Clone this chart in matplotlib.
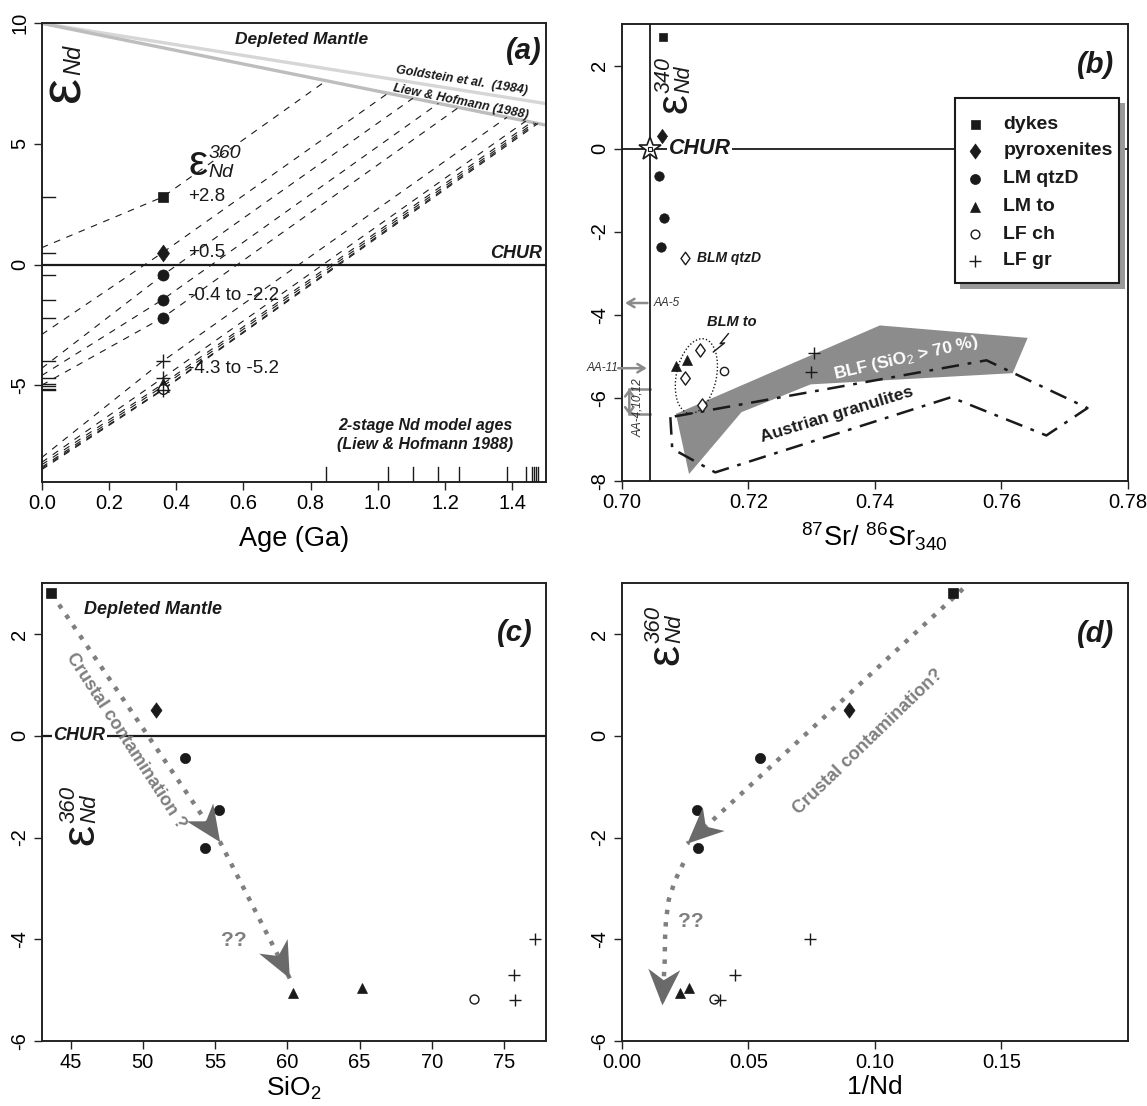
import numpy as np
import matplotlib
matplotlib.use("Agg")
import matplotlib.pyplot as plt
from matplotlib.patches import Polygon, Rectangle, Ellipse
from matplotlib.path import Path
from matplotlib.transforms import IdentityTransform, blended_transform_factory

plt.rcParams['font.family'] = ['Liberation Sans', 'DejaVu Sans']
plt.rcParams['mathtext.fontset'] = 'custom'
plt.rcParams['mathtext.rm'] = 'Liberation Sans'
plt.rcParams['mathtext.it'] = 'Liberation Sans:italic'
plt.rcParams['axes.unicode_minus'] = False

# ------------------------------------------------------------------ data
groups = ['dykes', 'pyroxenites', 'LM qtzD', 'LM to', 'LF ch', 'LF gr']
sample_group = ['dykes', 'pyroxenites', 'LM qtzD', 'LM qtzD', 'LM qtzD',
                'LM to', 'LM to', 'LF ch', 'LF gr', 'LF gr', 'LF gr']
eps_nd_360 = [2.8, 0.5, -0.44, -1.45, -2.2, -5.05, -4.95, -5.17, -4.0, -4.7, -5.2]
eps_nd_0 = [0.7, -2.9, -4.3, -4.6, -5.0, -8.4, -8.3, -8.45, -8.0, -8.2, -8.5]
t_dm = [0.846, 1.03, 1.104, 1.18, 1.24, 1.465, 1.457, 1.471, 1.384, 1.44, 1.476]
age_intrusion = 0.36
sio2 = [43.66, 50.89, 52.95, 55.27, 54.28, 60.42, 65.17, 72.95, 77.15, 75.69, 75.77]
inv_nd = [0.1307, 0.0898, 0.0547, 0.0298, 0.0301, 0.0230, 0.0266, 0.0365, 0.0744, 0.0446, 0.0390]

# depleted mantle evolution (present value, value at 1.5 Ga)
dm_goldstein = [10.0, 6.67]
dm_liew = [10.0, 5.78]
dm_age = [0.0, 1.5]

# panel (b)
group_b = ['dykes', 'pyroxenites', 'LM qtzD', 'LM qtzD', 'LM qtzD',
           'LM to', 'LM to', 'LF ch', 'LF gr', 'LF gr']
sr_340 = [0.7065, 0.70633, 0.70592, 0.70668, 0.70621, 0.70857, 0.71035, 0.71614, 0.73044, 0.72997]
eps_nd_340 = [2.69, 0.31, -0.65, -1.67, -2.38, -5.245, -5.10, -5.36, -4.92, -5.38]
blm_qtzd_sr = [0.70993]
blm_qtzd_eps = [-2.64]
blm_to_sr = [0.71242, 0.71005, 0.71271]
blm_to_eps = [-4.86, -5.52, -6.18]
blf_sr = [0.70857, 0.74079, 0.76415, 0.76178, 0.72986, 0.71892, 0.71064]
blf_eps = [-6.39, -4.26, -4.56, -5.41, -5.68, -6.35, -7.84]
agran_sr = [0.70769, 0.70798, 0.71478, 0.75203, 0.76710, 0.77360, 0.75764, 0.70769]
agran_eps = [-6.47, -7.23, -7.80, -5.99, -6.91, -6.25, -5.10, -6.47]
chur_sr = 0.7045
chur_eps = 0.0

# ------------------------------------------------------------------ styles
diamond = Path([(0, 1), (0.72, 0), (0, -1), (-0.72, 0), (0, 1)],
               [Path.MOVETO, Path.LINETO, Path.LINETO, Path.LINETO, Path.CLOSEPOLY])
K = '#1a1a1a'
GRAY = '#7f7f7f'
HEAD = '#6a6a6a'


def mstyle(g, scale=1.0):
    base = {
        'dykes': dict(marker='s', ms=7.2, mfc=K, mec=K, mew=0.5),
        'pyroxenites': dict(marker=diamond, ms=12, mfc=K, mec=K, mew=0.5),
        'LM qtzD': dict(marker='o', ms=8, mfc=K, mec=K, mew=0.5),
        'LM to': dict(marker='^', ms=8, mfc=K, mec=K, mew=0.5),
        'LF ch': dict(marker='o', ms=7, mfc='white', mec=K, mew=1.0),
        'LF gr': dict(marker='+', ms=10, mfc=K, mec=K, mew=1.0),
    }[g]
    base = dict(base)
    base['ms'] = base['ms'] * scale
    return base


def plot_groups(ax, xs, ys, gl, scale=1.0):
    for g in groups:
        xx = [x for x, gg in zip(xs, gl) if gg == g]
        yy = [y for y, gg in zip(ys, gl) if gg == g]
        if xx:
            ax.plot(xx, yy, ls='none', zorder=6, **mstyle(g, scale))


def style_axes(ax, xlim, ylim, xticks, yticks, xfmt):
    ax.set_xlim(*xlim)
    ax.set_ylim(*ylim)
    ax.set_xticks(xticks)
    ax.set_xticklabels([xfmt.format(v) for v in xticks])
    ax.set_yticks(yticks)
    ax.set_yticklabels(['{:g}'.format(v) for v in yticks], rotation=90, va='center')
    ax.tick_params(direction='out', length=6, width=1.0, labelsize=14.5, pad=3, color='#222')
    for s in ax.spines.values():
        s.set_linewidth(1.4)
        s.set_color('#222')


def eps_label(ax, x, y, sup, sub, size=30, ssize=15, rot=0, sub_dy=-0.05):
    ax.text(x, y, 'ε', fontsize=size, rotation=rot, ha='left', va='baseline',
            rotation_mode='anchor', color=K)
    adv = 0.46 * size

    def off(dx, dy):
        return (-dy, dx) if rot == 90 else (dx, dy)
    if sup:
        ax.annotate(sup, (x, y), xytext=off(adv, 0.40 * size), textcoords='offset points',
                    fontsize=ssize, style='italic', rotation=rot, ha='left', va='baseline',
                    rotation_mode='anchor', color=K)
    ax.annotate(sub, (x, y), xytext=off(adv, sub_dy * size), textcoords='offset points',
                fontsize=ssize, style='italic', rotation=rot, ha='left', va='baseline',
                rotation_mode='anchor', color=K)


def stealth(ax, tip, back, length=36, width=32, color=HEAD):
    t = ax.transData.transform(tip)
    b = ax.transData.transform(back)
    d = t - b
    d = d / np.hypot(*d)
    n = np.array([-d[1], d[0]])
    base = t - d * length
    pts = [t, base + n * width / 2, t - d * length * 0.70, base - n * width / 2]
    ax.add_patch(Polygon(pts, closed=True, transform=IdentityTransform(),
                         fc=color, ec='none', zorder=7))


fig = plt.figure(figsize=(11.47, 11.06), dpi=100)
W, H = 1147.0, 1106.0


def add_ax(l, r, t, b):
    return fig.add_axes([l / W, 1 - b / H, (r - l) / W, (b - t) / H])


axA = add_ax(41.7, 546, 23.3, 481.7)
axB = add_ax(621.7, 1128, 24, 480.7)
axC = add_ax(41.7, 546, 583.3, 1041)
axD = add_ax(621.7, 1128, 583.3, 1041)

# ------------------------------------------------------------------ (a)
ax = axA
style_axes(ax, (0, 1.5), (-9, 10), [0, 0.2, 0.4, 0.6, 0.8, 1.0, 1.2, 1.4], [-5, 0, 5, 10], '{:.1f}')
ax.plot(dm_age, dm_goldstein, color='#d6d6d6', lw=2.4, zorder=2, solid_capstyle='butt')
ax.plot(dm_age, dm_liew, color='#bdbdbd', lw=2.4, zorder=2, solid_capstyle='butt')
ax.axhline(0, color=K, lw=1.6, zorder=3)


def dm_value(t):
    return np.interp(t, dm_age, dm_liew)


for e0, e360, tdm in zip(eps_nd_0, eps_nd_360, t_dm):
    ax.plot([0, age_intrusion, tdm], [e0, e360, dm_value(tdm)], color=K, lw=0.8,
            ls=(0, (6, 6)), zorder=4)
plot_groups(ax, [age_intrusion] * len(eps_nd_360), eps_nd_360, sample_group, 1.0)
# rugs
trx = blended_transform_factory(ax.transData, ax.transAxes)
for tdm in t_dm:
    ax.plot([tdm, tdm], [0, 0.033], transform=trx, color=K, lw=1.0, zorder=5)
try_ = blended_transform_factory(ax.transAxes, ax.transData)
for e in eps_nd_360:
    ax.plot([0, 0.026], [e, e], transform=try_, color=K, lw=1.0, zorder=5)

ax.set_xlabel('Age (Ga)', fontsize=19.5, labelpad=9)
ax.text(0.773, 9.33, 'Depleted Mantle', fontsize=12.5, weight='bold', style='italic',
        ha='center', va='center', color=K)
ax.text(1.487, 8.85, '(a)', fontsize=21, weight='bold', style='italic', ha='right',
        va='center', color=K)
ax.text(1.25, 7.62, 'Goldstein et al.  (1984)', fontsize=9, weight='bold', style='italic',
        ha='center', va='center', rotation=-9, color=K)
ax.text(1.245, 6.76, 'Liew & Hofmann (1988)', fontsize=9, weight='bold', style='italic',
        ha='center', va='center', rotation=-11.5, color=K)
ax.text(1.489, 0.45, 'CHUR', fontsize=13, weight='bold', style='italic', ha='right',
        va='center', color=K)
ax.text(1.141, -6.68, '2-stage Nd model ages', fontsize=11.5, weight='bold', style='italic',
        ha='center', va='center', color=K)
ax.text(1.141, -7.46, '(Liew & Hofmann 1988)', fontsize=11.5, weight='bold', style='italic',
        ha='center', va='center', color=K)
for txt, yy, xx in [('+2.8', 2.84, 0.436), ('+0.5', 0.48, 0.436),
                    ('-0.4 to -2.2', -1.27, 0.434), ('-4.3 to -5.2', -4.31, 0.434)]:
    ax.text(xx, yy, txt, fontsize=13.5, ha='left', va='center', color=K,
            bbox=dict(fc='white', ec='none', pad=0.5))
eps_label(ax, 0.436, 3.70, '360', 'Nd', size=31, ssize=14)
# big eps_Nd axis label (inside panel)
eps_label(ax, 0.112, 6.75, '', 'Nd', size=42, ssize=17, rot=90, sub_dy=-0.02)

# ------------------------------------------------------------------ (b)
ax = axB
style_axes(ax, (0.70, 0.78), (-8, 3), [0.70, 0.72, 0.74, 0.76, 0.78], [-8, -6, -4, -2, 0, 2], '{:.2f}')
ax.axvline(chur_sr, color=K, lw=1.3, zorder=3)
ax.axhline(chur_eps, color=K, lw=1.3, zorder=3)
ax.add_patch(Polygon(list(zip(blf_sr, blf_eps)), closed=True, fc='#8c8c8c', ec='none', zorder=2))
ax.plot(agran_sr, agran_eps, color=K, lw=1.8, ls=(0, (7, 3.5, 1.5, 3.5)), zorder=3)
ax.text(0.7449, -5.04, 'BLF (SiO$_2$ > 70 %)', fontsize=12.5, weight='bold', color='white',
        rotation=13, ha='center', va='center', zorder=4)
ax.text(0.7340, -6.40, 'Austrian granulites', fontsize=12.5, weight='bold', color=K,
        rotation=17, ha='center', va='center', zorder=4)
plot_groups(ax, sr_340, eps_nd_340, group_b, 0.85)
ax.plot(blm_qtzd_sr, blm_qtzd_eps, ls='none', marker=diamond, ms=9, mfc='white', mec=K, mew=1.0, zorder=6)
ax.plot(blm_to_sr, blm_to_eps, ls='none', marker=diamond, ms=9.5, mfc='white', mec=K, mew=1.0, zorder=6)
ax.plot([chur_sr], [chur_eps], ls='none', marker='*', ms=17, mfc='white', mec=K, mew=1.2, zorder=7)
ax.plot([chur_sr], [chur_eps], ls='none', marker='s', ms=3, mfc='white', mec=K, mew=0.8, zorder=8)
ax.text(0.70739, 0.0, 'CHUR', fontsize=15.5, weight='bold', style='italic', ha='left',
        va='center', color=K, zorder=6, bbox=dict(fc='white', ec='none', pad=1))
ax.text(0.71182, -2.64, 'BLM qtzD', fontsize=10, weight='bold', style='italic', ha='left',
        va='center', color=K)
ax.text(0.71744, -4.18, 'BLM to', fontsize=10.5, weight='bold', style='italic', ha='center',
        va='center', color=K)
ax.plot([0.71685, 0.71555, 0.71626, 0.71448], [-4.46, -4.70, -4.68, -4.90], color=K, lw=1.0)
# dotted ellipse around BLM to
c_disp = ax.transData.transform((0.7118, -5.48))
ax.add_patch(Ellipse(c_disp, width=40, height=76, angle=-12, transform=IdentityTransform(),
                     fc='none', ec=K, lw=1.0, ls=(0, (1, 1.5)), zorder=5))
# AA arrows
AGRAY = '#8a8a8a'
ax.annotate('', xy=(0.7001, -3.72), xytext=(chur_sr, -3.72),
            arrowprops=dict(arrowstyle='->,head_length=0.5,head_width=0.3', color=AGRAY, lw=1.8))
ax.text(0.70503, -3.72, 'AA-5', fontsize=8.5, style='italic', ha='left', va='center', color='#333')
ax.annotate('', xy=(chur_sr - 0.0001, -5.29), xytext=(0.6990, -5.29),
            arrowprops=dict(arrowstyle='->,head_length=0.5,head_width=0.3', color=AGRAY, lw=1.8),
            annotation_clip=False)
ax.text(0.6994, -5.29, 'AA-11', fontsize=8.5, style='italic', ha='right', va='center', color='#333',
        clip_on=False)
ax.annotate('', xy=(0.7012, -5.72), xytext=(0.7012, -6.48),
            arrowprops=dict(arrowstyle='<->,head_length=0.4,head_width=0.3', color=AGRAY, lw=1.8))
ax.plot([0.7012, chur_sr], [-5.80, -5.80], color=AGRAY, lw=1.8)
ax.plot([0.7012, chur_sr], [-6.40, -6.40], color=AGRAY, lw=1.8)
ax.text(0.70266, -6.25, 'AA-4,10,12', fontsize=8.5, style='italic', ha='center', va='center',
        rotation=90, color='#333')
ax.set_xlabel('$^{87}$Sr/ $^{86}$Sr$_{340}$', fontsize=19.5, labelpad=6)
ax.text(0.7778, 2.02, '(b)', fontsize=21, weight='bold', style='italic', ha='right',
        va='center', color=K)
eps_label(ax, 0.7103, 0.85, '340', 'Nd', size=32, ssize=15.5, rot=90)

# legend (manual, with drop shadow)
lx0, lx1, ly0, ly1 = 0.658, 0.983, 0.432, 0.839
ax.add_patch(Rectangle((lx0 + 0.011, ly0 - 0.012), lx1 - lx0, ly1 - ly0, transform=ax.transAxes,
                       fc='#9a9a9a', ec='none', zorder=9))
ax.add_patch(Rectangle((lx0, ly0), lx1 - lx0, ly1 - ly0, transform=ax.transAxes,
                       fc='white', ec=K, lw=1.5, zorder=10))
row_y = [0.781, 0.722, 0.661, 0.600, 0.540, 0.482]
for g, yy in zip(groups, row_y):
    ax.plot([0.698], [yy], transform=ax.transAxes, ls='none', zorder=11, clip_on=False, **mstyle(g, 0.9))
    ax.text(0.754, yy, g, transform=ax.transAxes, fontsize=14, weight='bold', ha='left',
            va='center', color=K, zorder=11)

# ------------------------------------------------------------------ (c)
ax = axC
style_axes(ax, (43.0, 77.9), (-6, 3), [45, 50, 55, 60, 65, 70, 75], [-6, -4, -2, 0, 2], '{:g}')
ax.axhline(0, color=K, lw=1.6, zorder=3)
path_c_x = [44.2, 55.35, 60.17]
path_c_y = [2.58, -2.09, -4.77]
ax.plot(path_c_x, path_c_y, color=GRAY, lw=3.2, ls=(0, (1, 1.8)), zorder=4)
plot_groups(ax, sio2, eps_nd_360, sample_group, 0.92)
stealth(ax, (path_c_x[1], path_c_y[1]), (path_c_x[0], path_c_y[0]))
stealth(ax, (path_c_x[2], path_c_y[2]), (path_c_x[1], path_c_y[1]))
ax.text(45.94, 2.49, 'Depleted Mantle', fontsize=13, weight='bold', style='italic',
        ha='left', va='center', color=K)
ax.text(77.0, 2.03, '(c)', fontsize=21, weight='bold', style='italic', ha='right',
        va='center', color=K)
ax.text(43.79, 0.0, 'CHUR', fontsize=13, weight='bold', style='italic', ha='left',
        va='center', color=K, zorder=5, bbox=dict(fc='white', ec='none', pad=1))
ax.text(48.8, -0.1, 'Crustal contamination ?', fontsize=13, weight='bold', color=GRAY,
        rotation=-57, ha='center', va='center', zorder=5)
ax.text(56.3, -4.02, '??', fontsize=15, weight='bold', color=GRAY, ha='center', va='center')
eps_label(ax, 46.56, -2.14, '360', 'Nd', size=34, ssize=16, rot=90)
ax.set_xlabel('SiO$_2$', fontsize=19, labelpad=2)

# ------------------------------------------------------------------ (d)
ax = axD
style_axes(ax, (0.0, 0.2), (-6, 3), [0.0, 0.05, 0.10, 0.15], [-6, -4, -2, 0, 2], '{:.2f}')
path_d1_x = [0.1348, 0.0259]
path_d1_y = [2.89, -2.12]
path_d2_x = [0.0259, 0.0244, 0.0211, 0.0186, 0.0175, 0.0171, 0.0170, 0.0161]
path_d2_y = [-2.12, -2.50, -2.84, -3.22, -3.62, -4.00, -4.41, -5.30]
ax.plot(path_d1_x, path_d1_y, color=GRAY, lw=3.2, ls=(0, (1, 1.8)), zorder=4)
ax.plot(path_d2_x[1:], path_d2_y[1:], color=GRAY, lw=3.2, ls=(0, (1, 1.8)), zorder=4)
plot_groups(ax, inv_nd, eps_nd_360, sample_group, 0.92)
stealth(ax, (path_d1_x[1], path_d1_y[1]), (path_d1_x[0], path_d1_y[0]))
stealth(ax, (path_d2_x[-1], path_d2_y[-1]), (path_d2_x[-2], path_d2_y[-2]))
ax.text(0.1945, 2.0, '(d)', fontsize=21, weight='bold', style='italic', ha='right',
        va='center', color=K)
ax.text(0.0974, -0.11, 'Crustal contamination?', fontsize=13, weight='bold', color=GRAY,
        rotation=44, ha='center', va='center', zorder=5)
ax.text(0.0273, -3.66, '??', fontsize=15, weight='bold', color=GRAY, ha='center', va='center')
eps_label(ax, 0.0222, 1.39, '360', 'Nd', size=34, ssize=16, rot=90)
ax.set_xlabel('1/Nd', fontsize=19, labelpad=2)

fig.savefig('out.png', dpi=100)
